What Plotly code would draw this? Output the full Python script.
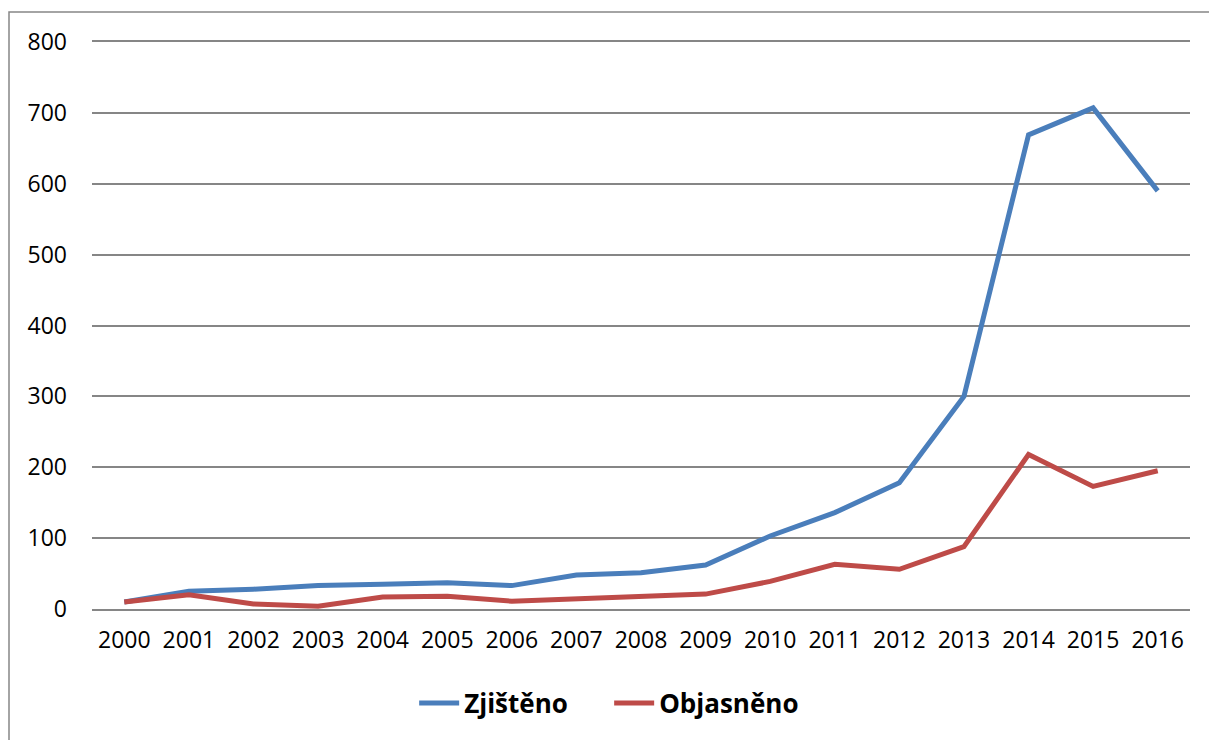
import plotly.graph_objects as go

years = [str(y) for y in range(2000, 2017)]
zjisteno = [10, 25, 28, 33, 35, 37, 33, 48, 51, 62, 103, 136, 178, 300, 669, 707, 590]
objasneno = [10, 20, 7, 4, 17, 18, 11, 14, 18, 21, 39, 63, 56, 88, 218, 173, 195]

fig = go.Figure()
fig.add_trace(go.Scatter(x=years, y=zjisteno, name="Zjištěno", mode="lines",
                         line=dict(color="#4A7EBB", width=5)))
fig.add_trace(go.Scatter(x=years, y=objasneno, name="Objasněno", mode="lines",
                         line=dict(color="#BE4B48", width=5)))

# outer chart frame (like the Excel chart border)
fig.add_shape(type="rect", xref="paper", yref="paper",
              x0=(9 - 92) / 1098, x1=(1230 - 92) / 1098,
              y0=-(760 - 609) / 567, y1=1 + (42 - 12) / 567,
              line=dict(color="#868686", width=1.5), layer="below")

fig.update_layout(
    width=1209, height=740,
    margin=dict(l=92, r=19, t=42, b=131),
    plot_bgcolor="white", paper_bgcolor="white",
    font=dict(family="Open Sans, Liberation Sans, sans-serif", size=23, color="#000000"),
    showlegend=True,
    legend=dict(orientation="h", x=0.471, xanchor="center", y=-0.166, yanchor="middle",
                font=dict(size=26, weight="bold"), itemwidth=40, entrywidth=140,
                tracegroupgap=0),
    # top/bottom axis lines stand in for the 800 and 0 gridlines
    xaxis=dict(type="category", range=[-0.5, 16.5], showgrid=False, zeroline=False,
               showline=True, mirror=True, linecolor="#868686", linewidth=1.5,
               ticks="", ticklabelstandoff=10),
    yaxis=dict(range=[0, 800], dtick=100, showgrid=True, gridcolor="#868686", gridwidth=1.5,
               zeroline=False, showline=False, ticks="", ticklabelstandoff=24),
)

fig.write_html("out.html", config={"displayModeBar": False},
               post_script="document.body.style.margin='0';")
